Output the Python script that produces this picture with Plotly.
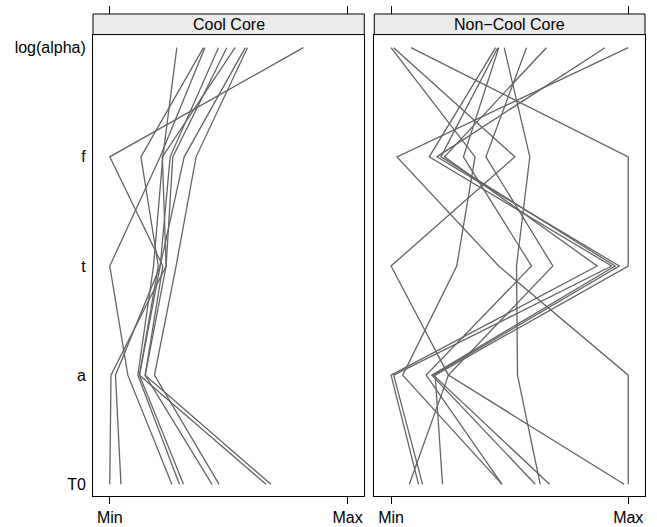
import plotly.graph_objects as go

variables = ["T0", "a", "t", "f", "log(alpha)"]
panels = ["Cool Core", "Non\u2212Cool Core"]

# Scaled values (0 = Min, 1 = Max) for each observation
cc_T0 = [0.0, 0.047, 0.261, 0.293, 0.310, 0.430, 0.460, 0.657, 0.678]
cc_a = [0.005, 0.024, 0.076, 0.118, 0.125, 0.149, 0.188, 0.125, 0.149]
cc_t = [0.237, 0.212, 0.0, 0.184, 0.204, 0.223, 0.279, 0.212, 0.237]
cc_f = [0.265, 0.254, 0.212, 0.223, 0.131, 0.0, 0.363, 0.313, 0.221]
cc_logalpha = [0.492, 0.457, 0.400, 0.282, 0.394, 0.814, 0.579, 0.570, 0.527]

ncc_T0 = [0.468, 0.077, 0.217, 0.133, 0.608, 0.468, 0.629, 0.983, 0.116, 0.668, 1.0]
ncc_a = [0.049, 0.242, 0.186, 0.011, 0.172, 0.148, 0.533, 0.242, 0.0, 0.179, 1.0]
ncc_t = [0.277, 0.0, 1.0, 0.930, 0.944, 0.592, 0.529, 0.682, 0.869, 0.962, 0.454]
ncc_f = [0.354, 0.522, 1.0, 0.161, 0.210, 0.305, 0.585, 0.400, 0.225, 0.193, 0.025]
ncc_logalpha = [0.0, 0.011, 0.084, 0.441, 0.450, 0.454, 0.477, 0.571, 0.655, 0.902, 1.0]

x_ticktext = ["Min", "Max"]

groups = [
    (cc_T0, cc_a, cc_t, cc_f, cc_logalpha),
    (ncc_T0, ncc_a, ncc_t, ncc_f, ncc_logalpha),
]

FONT = "Liberation Sans, Arial, Helvetica, sans-serif"
LINE_COL = "#646464"

fig = go.Figure()
ypos = list(range(1, len(variables) + 1))
for gi, cols in enumerate(groups):
    xa = "x" if gi == 0 else "x2"
    ya = "y" if gi == 0 else "y2"
    n = len(cols[0])
    for i in range(n):
        fig.add_trace(go.Scatter(
            x=[c[i] for c in cols], y=ypos, mode="lines",
            line=dict(color=LINE_COL, width=1.3),
            xaxis=xa, yaxis=ya, showlegend=False, hoverinfo="skip"))

ydom = [0, 0.9573]
xdoms = [[0, 0.4915], [0.5096, 1.0]]
xr = [-0.0706, 1.0706]
yr = [0.893, 5.12]

axis_common = dict(showline=True, linecolor="black", linewidth=1, mirror=True,
                   showgrid=False, zeroline=False, automargin=False)

fig.update_layout(
    width=657, height=527,
    margin=dict(l=93, r=12, t=14, b=31),
    plot_bgcolor="white", paper_bgcolor="white",
    font=dict(family=FONT, size=16, color="black"),
    xaxis=dict(domain=xdoms[0], range=xr, tickvals=[0, 1], ticktext=x_ticktext,
               ticks="outside", ticklen=7, tickcolor="black", anchor="y", **axis_common),
    xaxis2=dict(domain=xdoms[1], range=xr, tickvals=[0, 1], ticktext=x_ticktext,
                ticks="outside", ticklen=7, tickcolor="black", anchor="y2", **axis_common),
    yaxis=dict(domain=ydom, range=yr, tickvals=ypos, ticktext=variables,
               ticks="", ticklabelstandoff=3, anchor="x", **axis_common),
    yaxis2=dict(domain=ydom, range=yr, tickvals=ypos, ticktext=variables,
                showticklabels=False, ticks="", anchor="x2", **axis_common),
    xaxis3=dict(domain=xdoms[0], range=xr, tickvals=[0, 1], showticklabels=False,
                ticks="outside", ticklen=8, tickcolor="black", side="top",
                anchor="free", position=1.0, overlaying="x", showline=False,
                showgrid=False, zeroline=False, automargin=False),
    xaxis4=dict(domain=xdoms[1], range=xr, tickvals=[0, 1], showticklabels=False,
                ticks="outside", ticklen=8, tickcolor="black", side="top",
                anchor="free", position=1.0, overlaying="x2", showline=False,
                showgrid=False, zeroline=False, automargin=False),
)

# invisible traces to activate top tick axes
fig.add_trace(go.Scatter(x=[None], y=[None], xaxis="x3", yaxis="y", showlegend=False))
fig.add_trace(go.Scatter(x=[None], y=[None], xaxis="x4", yaxis="y2", showlegend=False))

shapes = []
annotations = []
for gi, name in enumerate(panels):
    xref = "x domain" if gi == 0 else "x2 domain"
    shapes.append(dict(type="rect", xref=xref, yref="paper", x0=0, x1=1,
                       y0=ydom[1], y1=1.0, fillcolor="#ebebeb",
                       line=dict(color="black", width=1), layer="above"))
    annotations.append(dict(text=name, xref=xref, yref="paper", x=0.5,
                            y=(ydom[1] + 1.0) / 2, showarrow=False,
                            xanchor="center", yanchor="middle",
                            font=dict(family=FONT, size=16, color="black")))
fig.update_layout(shapes=shapes, annotations=annotations)

fig.write_html("out.html",
               config={"displayModeBar": False, "staticPlot": True},
               post_script="document.body.style.margin='0';document.body.style.overflow='hidden';")
